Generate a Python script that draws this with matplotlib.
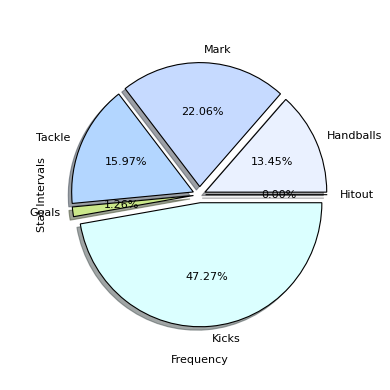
import matplotlib
matplotlib.use("Agg")
import matplotlib.pyplot as plt

# stat categories and their share (percent)
labels = ["Hitout", "Handballs", "Mark", "Tackle", "Goals", "Kicks"]
values = [0.0, 13.45, 22.06, 15.97, 1.26, 47.27]
colors = ["#f0f0ff", "#eaf1ff", "#c6daff", "#b3d6ff", "#cbe88a", "#dbffff"]
explode = [0.05, 0.05, 0.065, 0.055, 0.05, 0.065]

fig = plt.figure(figsize=(3.9, 3.9), dpi=100)
ax = fig.add_axes([0.1215, 0.1033, 0.78, 0.795])
ax.pie(values, labels=labels, colors=colors, explode=explode,
       autopct="%1.2f%%", shadow=True,
       wedgeprops={"edgecolor": "black", "linewidth": 0.8},
       textprops={"fontsize": 8})
ax.set_aspect("auto")
ax.set_xlim(-1.25, 1.25)
ax.set_ylim(-1.25, 1.25)
ax.set_xlabel("Frequency", fontsize=8, labelpad=4)
ax.set_ylabel("Stat Intervals", fontsize=8, labelpad=0)
fig.savefig("out.png", dpi=100)
